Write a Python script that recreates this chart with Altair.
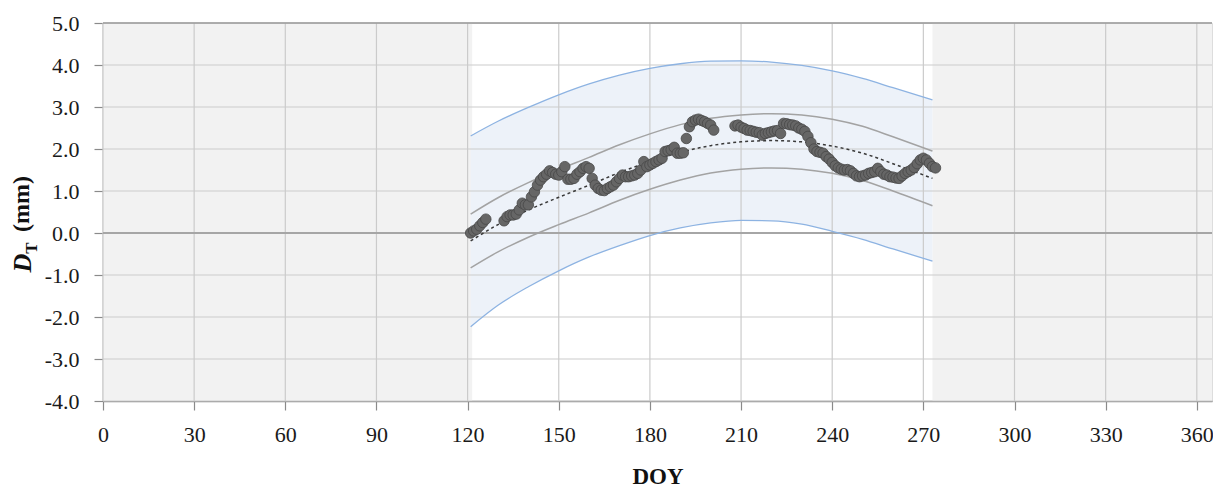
import altair as alt
import pandas as pd

# ---- data ----
obs_day = [121, 122, 123, 124, 125, 126,
           132, 133, 134, 135, 136, 137, 138, 139, 140, 141, 142, 143, 144, 145, 146, 147, 148, 149, 150,
           151, 152, 153, 154, 155, 156, 157, 158, 159, 160, 161, 162, 163, 164, 165, 166, 167, 168, 169, 170,
           171, 172, 173, 174, 175, 176, 177, 178, 179, 180, 181, 182, 183, 184, 185, 186, 187, 188, 189, 190,
           191, 192, 193, 194, 195, 196, 197, 198, 199, 200, 201,
           208, 209, 210, 211, 212, 213, 214, 215, 216, 217, 218, 219, 220, 221, 222, 223, 224, 225, 226, 227,
           228, 229, 230, 231, 232, 233, 234, 235, 236, 237, 238, 239, 240, 241, 242, 243, 244, 245, 246, 247,
           248, 249, 250, 251, 252, 253, 254, 255, 256, 257, 258, 259, 260, 261, 262, 263, 264, 265, 266, 267,
           268, 269, 270, 271, 272, 273, 274]
obs_dt = [0.00, 0.05, 0.09, 0.17, 0.25, 0.33,
          0.29, 0.39, 0.43, 0.43, 0.45, 0.55, 0.71, 0.67, 0.67, 0.86, 0.98, 1.14, 1.26, 1.34, 1.40, 1.48, 1.44, 1.40, 1.38,
          1.46, 1.58, 1.28, 1.28, 1.30, 1.40, 1.46, 1.54, 1.58, 1.54, 1.30, 1.14, 1.06, 1.02, 1.01, 1.06, 1.10, 1.14, 1.22, 1.30,
          1.38, 1.34, 1.34, 1.36, 1.38, 1.42, 1.50, 1.70, 1.58, 1.62, 1.66, 1.70, 1.74, 1.78, 1.94, 1.96, 1.98, 2.04, 1.90, 1.90,
          1.91, 2.25, 2.53, 2.65, 2.69, 2.71, 2.68, 2.65, 2.61, 2.57, 2.45,
          2.55, 2.57, 2.52, 2.49, 2.45, 2.44, 2.42, 2.40, 2.39, 2.33, 2.37, 2.39, 2.41, 2.43, 2.44, 2.37, 2.61, 2.60, 2.58, 2.57,
          2.55, 2.50, 2.47, 2.42, 2.30, 2.15, 2.00, 1.94, 1.92, 1.90, 1.82, 1.76, 1.68, 1.60, 1.55, 1.52, 1.50, 1.51, 1.48, 1.42,
          1.36, 1.34, 1.36, 1.38, 1.42, 1.44, 1.46, 1.54, 1.46, 1.40, 1.38, 1.34, 1.33, 1.31, 1.30, 1.36, 1.42, 1.46, 1.50, 1.56,
          1.65, 1.74, 1.78, 1.74, 1.66, 1.58, 1.55]

curve_day = [121, 130, 140, 150, 160, 170, 180, 190, 200, 210, 220, 230, 240, 250, 260, 273]
pred_upper = [2.31, 2.66, 2.99, 3.29, 3.55, 3.76, 3.92, 4.03, 4.09, 4.10, 4.07, 3.99, 3.86, 3.68, 3.46, 3.17]
conf_upper = [0.45, 0.84, 1.20, 1.51, 1.80, 2.10, 2.36, 2.58, 2.73, 2.81, 2.84, 2.81, 2.71, 2.54, 2.29, 1.95]
fit_curve = [-0.19, 0.20, 0.55, 0.85, 1.14, 1.44, 1.70, 1.92, 2.08, 2.17, 2.20, 2.17, 2.07, 1.90, 1.65, 1.30]
conf_lower = [-0.83, -0.45, -0.10, 0.20, 0.48, 0.78, 1.04, 1.26, 1.43, 1.52, 1.55, 1.52, 1.42, 1.25, 1.00, 0.65]
pred_lower = [-2.23, -1.72, -1.28, -0.90, -0.57, -0.30, -0.06, 0.12, 0.24, 0.30, 0.29, 0.21, 0.04, -0.15, -0.38, -0.67]

out_season_start = [0, 273]
out_season_end = [121.5, 365]

x_ticks = [0, 30, 60, 90, 120, 150, 180, 210, 240, 270, 300, 330, 360]
y_ticks = [-4, -3, -2, -1, 0, 1, 2, 3, 4, 5]

# ---- tables ----
obs = pd.DataFrame({"day": obs_day, "dt": obs_dt})
curves = pd.DataFrame({"day": curve_day, "pu": pred_upper, "cu": conf_upper,
                       "fit": fit_curve, "cl": conf_lower, "pl": pred_lower})
shade = pd.DataFrame({"x0": out_season_start, "x1": out_season_end})
xgrid = pd.DataFrame({"v": x_ticks})
ygrid = pd.DataFrame({"v": y_ticks})

FONT = "Liberation Serif"
xs = alt.Scale(domain=[0, 365], nice=False, zero=False)
ys = alt.Scale(domain=[-4, 5], nice=False, zero=False)

x_axis = alt.Axis(values=x_ticks, title="DOY", grid=False, labelFont=FONT, labelFontSize=22,
                  labelColor="#1a1a1a", titleFont=FONT, titleFontSize=23, titleFontWeight="bold",
                  titleColor="#111111", tickSize=9, tickColor="#8a8a8a", domainColor="#8a8a8a",
                  domainWidth=1.5, tickWidth=1.2, labelPadding=14, titlePadding=20, labelFlush=False)
y_axis = alt.Axis(values=y_ticks, title=None, grid=False, labelFont=FONT,
                  labelExpr="(datum.value < 0 ? '-' : '') + format(abs(datum.value), '.1f')",
                  labelFontSize=22, labelColor="#1a1a1a", tickSize=9, tickColor="#8a8a8a",
                  domainColor="#8a8a8a", domainWidth=1.5, tickWidth=1.2, labelPadding=15)

base = alt.Chart(curves)

rects = alt.Chart(shade).mark_rect(color="#f2f2f2").encode(
    x=alt.X("x0:Q", scale=xs, axis=x_axis), x2="x1:Q",
    y=alt.Y("lo:Q", scale=ys, axis=y_axis), y2="hi:Q"
).transform_calculate(lo="-4", hi="5")

band = base.mark_area(color="#edf2f9", interpolate="monotone").encode(
    x=alt.X("day:Q", scale=xs), y=alt.Y("pl:Q", scale=ys), y2="pu:Q")

vgrid = alt.Chart(xgrid).mark_rule(color="#cbcbcb", strokeWidth=1.2).encode(
    x=alt.X("v:Q", scale=xs), y=alt.value(0), y2=alt.value(378))
hgrid = alt.Chart(ygrid).mark_rule(color="#cbcbcb", strokeWidth=1.2).encode(
    y=alt.Y("v:Q", scale=ys), x=alt.value(0), x2=alt.value(1109))

zero = alt.Chart(pd.DataFrame({"v": [0]})).mark_rule(color="#a6a6a6", strokeWidth=2.2).encode(
    y=alt.Y("v:Q", scale=ys), x=alt.value(0), x2=alt.value(1109))
top = alt.Chart(pd.DataFrame({"v": [5]})).mark_rule(color="#9a9a9a", strokeWidth=1.5).encode(
    y=alt.Y("v:Q", scale=ys), x=alt.value(0), x2=alt.value(1109))

def line(col, color, width, dash=None):
    kw = dict(color=color, strokeWidth=width, interpolate="monotone")
    if dash:
        kw["strokeDash"] = dash
    return base.mark_line(**kw).encode(x=alt.X("day:Q", scale=xs), y=alt.Y(f"{col}:Q", scale=ys))

l_pu = line("pu", "#8db3e2", 1.3)
l_pl = line("pl", "#8db3e2", 1.3)
l_cu = line("cu", "#a3a3a3", 1.5)
l_cl = line("cl", "#a3a3a3", 1.5)
l_fit = line("fit", "#3a3a3a", 1.5, [3, 3])

pts = alt.Chart(obs).mark_circle(size=110, color="#666666", opacity=1, stroke="#474747",
                                 strokeWidth=0.8).encode(
    x=alt.X("day:Q", scale=xs), y=alt.Y("dt:Q", scale=ys))

# y-axis title  D_T (mm)  built from pieces (italic D, subscript T)
t_D = alt.Chart(pd.DataFrame({"t": ["D"]})).mark_text(
    font=FONT, fontSize=26, fontWeight="bold", fontStyle="italic", angle=270,
    align="center", baseline="middle", color="#111111").encode(
    text="t:N", x=alt.value(-80), y=alt.value(240))
t_T = alt.Chart(pd.DataFrame({"t": ["T"]})).mark_text(
    font=FONT, fontSize=17, fontWeight="bold", angle=270,
    align="center", baseline="middle", color="#111111").encode(
    text="t:N", x=alt.value(-71), y=alt.value(225))
t_mm = alt.Chart(pd.DataFrame({"t": ["(mm)"]})).mark_text(
    font=FONT, fontSize=24, fontWeight="bold", angle=270,
    align="center", baseline="middle", color="#111111").encode(
    text="t:N", x=alt.value(-81), y=alt.value(181))

chart = alt.layer(rects, band, vgrid, hgrid, zero, top, l_pu, l_pl, l_cu, l_cl, l_fit, pts,
                  t_D, t_T, t_mm).properties(
    width=1109, height=378,
    autosize=alt.AutoSizeParams(type="none"),
    padding={"left": 95, "top": 15, "right": 1, "bottom": 90},
).configure_view(stroke=None).configure(background="white")

chart.save("out.html", embed_options={"renderer": "svg", "actions": False})
